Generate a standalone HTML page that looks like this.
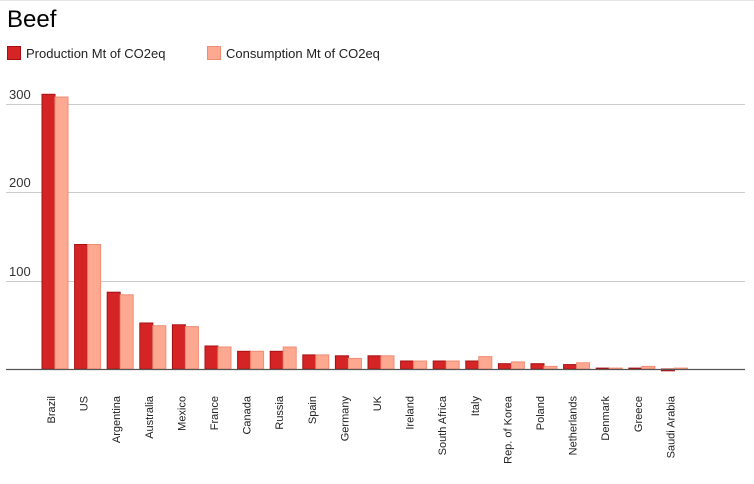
<!DOCTYPE html>
<html><head><meta charset="utf-8"><style>
html,body{margin:0;padding:0;background:#fff;width:754px;height:484px;overflow:hidden}
svg{display:block;font-family:"Liberation Sans",Arial,sans-serif}
.p{fill:#d42426;stroke:#a80f12;stroke-width:1}
.c{fill:#fda891;stroke:#f08c74;stroke-width:1}
.l{font-size:11px;fill:#222}
</style></head><body>
<svg width="754" height="484" viewBox="0 0 754 484">
<line x1="0" y1="0.5" x2="754" y2="0.5" stroke="#e4e4e4"/>
<text x="7" y="27" font-size="24" fill="#000">Beef</text>
<rect x="7.5" y="46.5" width="13" height="13" class="p"/>
<text x="26" y="58" font-size="13" fill="#222">Production Mt of CO2eq</text>
<rect x="207.5" y="46.5" width="13" height="13" class="c"/>
<text x="226" y="58" font-size="13" fill="#222">Consumption Mt of CO2eq</text>
<g stroke="#ccc" stroke-width="1">
<line x1="6" y1="104.5" x2="745" y2="104.5"/>
<line x1="6" y1="192.5" x2="745" y2="192.5"/>
<line x1="6" y1="281.5" x2="745" y2="281.5"/>
</g>
<g font-size="13" fill="#333">
<text x="9" y="99">300</text>
<text x="9" y="187">200</text>
<text x="9" y="276">100</text>
</g>
<g>
<rect class="p" x="42" y="94.3" width="13" height="274.7"/><rect class="c" x="55" y="97" width="13" height="272"/>
<rect class="p" x="74.6" y="244.5" width="13" height="124.5"/><rect class="c" x="87.6" y="244.5" width="13" height="124.5"/>
<rect class="p" x="107.2" y="292.2" width="13" height="76.8"/><rect class="c" x="120.2" y="294.8" width="13" height="74.2"/>
<rect class="p" x="139.8" y="323" width="13" height="46"/><rect class="c" x="152.8" y="325.7" width="13" height="43.3"/>
<rect class="p" x="172.4" y="324.8" width="13" height="44.2"/><rect class="c" x="185.4" y="326.6" width="13" height="42.4"/>
<rect class="p" x="205" y="346" width="13" height="23"/><rect class="c" x="218" y="347" width="13" height="22"/>
<rect class="p" x="237.6" y="351.3" width="13" height="17.7"/><rect class="c" x="250.6" y="351.3" width="13" height="17.7"/>
<rect class="p" x="270.2" y="351.3" width="13" height="17.7"/><rect class="c" x="283.2" y="347" width="13" height="22"/>
<rect class="p" x="302.8" y="354.9" width="13" height="14.1"/><rect class="c" x="315.8" y="354.9" width="13" height="14.1"/>
<rect class="p" x="335.4" y="355.8" width="13" height="13.2"/><rect class="c" x="348.4" y="358.4" width="13" height="10.6"/>
<rect class="p" x="368" y="355.8" width="13" height="13.2"/><rect class="c" x="381" y="355.8" width="13" height="13.2"/>
<rect class="p" x="400.6" y="361" width="13" height="8"/><rect class="c" x="413.6" y="361" width="13" height="8"/>
<rect class="p" x="433.2" y="361" width="13" height="8"/><rect class="c" x="446.2" y="361" width="13" height="8"/>
<rect class="p" x="465.8" y="361" width="13" height="8"/><rect class="c" x="478.8" y="356.6" width="13" height="12.4"/>
<rect class="p" x="498.4" y="363.7" width="13" height="5.3"/><rect class="c" x="511.4" y="361.9" width="13" height="7.1"/>
<rect class="p" x="531" y="363.7" width="13" height="5.3"/><rect class="c" x="544" y="366.4" width="13" height="2.6"/>
<rect class="p" x="563.6" y="364.6" width="13" height="4.4"/><rect class="c" x="576.6" y="362.8" width="13" height="6.2"/>
<rect class="p" x="596.2" y="368.1" width="13" height="0.9"/><rect class="c" x="609.2" y="368.1" width="13" height="0.9"/>
<rect class="p" x="628.8" y="368.1" width="13" height="0.9"/><rect class="c" x="641.8" y="366.4" width="13" height="2.6"/>
<rect class="p" x="661.4" y="369" width="13" height="1.8"/><rect class="c" x="674.4" y="368.1" width="13" height="0.9"/>
</g>
<line x1="6" y1="369.5" x2="745" y2="369.5" stroke="#555" stroke-width="1.2"/>
<g class="l" text-anchor="end">
<text transform="translate(55,396) rotate(-90)">Brazil</text>
<text transform="translate(87.6,396) rotate(-90)">US</text>
<text transform="translate(120.2,396) rotate(-90)">Argentina</text>
<text transform="translate(152.8,396) rotate(-90)">Australia</text>
<text transform="translate(185.4,396) rotate(-90)">Mexico</text>
<text transform="translate(218,396) rotate(-90)">France</text>
<text transform="translate(250.6,396) rotate(-90)">Canada</text>
<text transform="translate(283.2,396) rotate(-90)">Russia</text>
<text transform="translate(315.8,396) rotate(-90)">Spain</text>
<text transform="translate(348.4,396) rotate(-90)">Germany</text>
<text transform="translate(381,396) rotate(-90)">UK</text>
<text transform="translate(413.6,396) rotate(-90)">Ireland</text>
<text transform="translate(446.2,396) rotate(-90)">South Africa</text>
<text transform="translate(478.8,396) rotate(-90)">Italy</text>
<text transform="translate(511.4,396) rotate(-90)">Rep. of Korea</text>
<text transform="translate(544,396) rotate(-90)">Poland</text>
<text transform="translate(576.6,396) rotate(-90)">Netherlands</text>
<text transform="translate(609.2,396) rotate(-90)">Denmark</text>
<text transform="translate(641.8,396) rotate(-90)">Greece</text>
<text transform="translate(674.4,396) rotate(-90)">Saudi Arabia</text>
</g>
</svg>
</body></html>
